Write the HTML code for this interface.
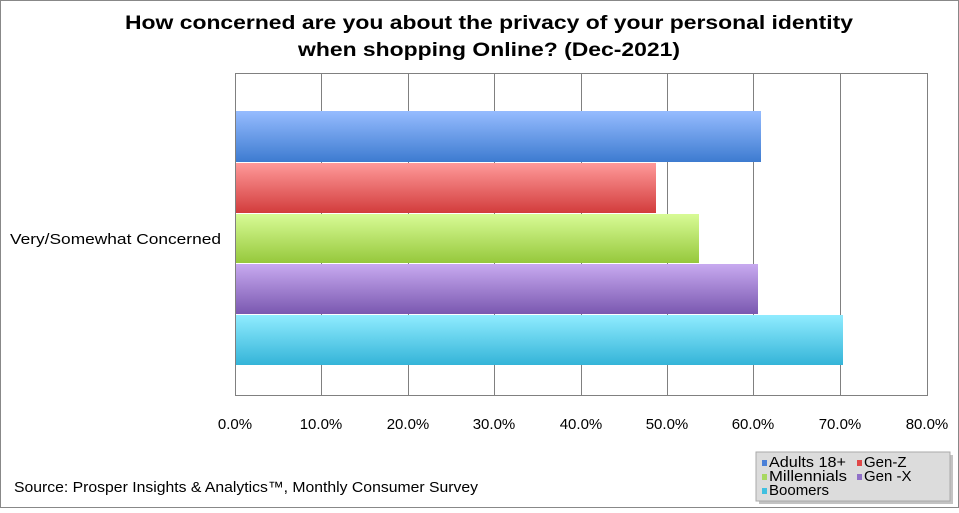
<!DOCTYPE html>
<html><head><style>
body{margin:0;background:#fff;}
</style></head><body>
<svg width="959" height="508" xmlns="http://www.w3.org/2000/svg" font-family="Liberation Sans, Arial, sans-serif">
<defs>
<linearGradient id="gb" x1="0" y1="0" x2="0" y2="1"><stop offset="0" stop-color="#96bcff"/><stop offset="1" stop-color="#3d7bd0"/></linearGradient>
<linearGradient id="gr" x1="0" y1="0" x2="0" y2="1"><stop offset="0" stop-color="#ff9a9a"/><stop offset="1" stop-color="#d23c3c"/></linearGradient>
<linearGradient id="gg" x1="0" y1="0" x2="0" y2="1"><stop offset="0" stop-color="#d8fb96"/><stop offset="1" stop-color="#96c83c"/></linearGradient>
<linearGradient id="gp" x1="0" y1="0" x2="0" y2="1"><stop offset="0" stop-color="#c8aaf0"/><stop offset="1" stop-color="#7a58b0"/></linearGradient>
<linearGradient id="gc" x1="0" y1="0" x2="0" y2="1"><stop offset="0" stop-color="#90ecff"/><stop offset="1" stop-color="#34b4d8"/></linearGradient>
</defs>
<rect x="0.5" y="0.5" width="958" height="507" fill="#fff" stroke="#888"/>
<text x="125" y="29" font-size="19" font-weight="bold" textLength="728" lengthAdjust="spacingAndGlyphs">How concerned are you about the privacy of your personal identity</text>
<text x="298" y="56" font-size="19" font-weight="bold" textLength="382" lengthAdjust="spacingAndGlyphs">when shopping Online? (Dec-2021)</text>
<g stroke="#808080" stroke-width="1">
<line x1="235.5" y1="73" x2="235.5" y2="396"/>
<line x1="321.5" y1="73" x2="321.5" y2="396"/>
<line x1="408.5" y1="73" x2="408.5" y2="396"/>
<line x1="494.5" y1="73" x2="494.5" y2="396"/>
<line x1="581.5" y1="73" x2="581.5" y2="396"/>
<line x1="667.5" y1="73" x2="667.5" y2="396"/>
<line x1="753.5" y1="73" x2="753.5" y2="396"/>
<line x1="840.5" y1="73" x2="840.5" y2="396"/>
<line x1="927.5" y1="73" x2="927.5" y2="396"/>
<line x1="235" y1="73.5" x2="928" y2="73.5"/>
<line x1="235" y1="395.5" x2="928" y2="395.5"/>
</g>
<rect x="236" y="111" width="525" height="51" fill="url(#gb)"/>
<rect x="236" y="163" width="420" height="50" fill="url(#gr)"/>
<rect x="236" y="214" width="463" height="49" fill="url(#gg)"/>
<rect x="236" y="264" width="522" height="50" fill="url(#gp)"/>
<rect x="236" y="315" width="607" height="50" fill="url(#gc)"/>
<text x="10" y="244" font-size="15" textLength="211" lengthAdjust="spacingAndGlyphs">Very/Somewhat Concerned</text>
<g font-size="15" text-anchor="middle">
<text x="235" y="429">0.0%</text><text x="321" y="429">10.0%</text><text x="408" y="429">20.0%</text>
<text x="494" y="429">30.0%</text><text x="581" y="429">40.0%</text><text x="667" y="429">50.0%</text>
<text x="753" y="429">60.0%</text><text x="840" y="429">70.0%</text><text x="927" y="429">80.0%</text>
</g>
<text x="14" y="492" font-size="15" textLength="464" lengthAdjust="spacingAndGlyphs">Source: Prosper Insights &amp; Analytics™, Monthly Consumer Survey</text>
<rect x="759" y="455" width="194" height="49" fill="#888" opacity="0.5"/>
<rect x="756" y="452" width="194" height="49" fill="#dcdcdc" stroke="#aaa"/>
<g font-size="15">
<rect x="762" y="460" width="5" height="6" fill="#4a80d8"/><text x="769" y="467" textLength="77" lengthAdjust="spacingAndGlyphs">Adults 18+</text>
<rect x="857" y="460" width="5" height="6" fill="#e04848"/><text x="864" y="467">Gen-Z</text>
<rect x="762" y="474" width="5" height="6" fill="#a8d860"/><text x="769" y="481" textLength="78" lengthAdjust="spacingAndGlyphs">Millennials</text>
<rect x="857" y="474" width="5" height="6" fill="#9070c8"/><text x="864" y="481">Gen -X</text>
<rect x="762" y="488" width="5" height="6" fill="#40c0e0"/><text x="769" y="495">Boomers</text>
</g>
</svg>
</body></html>
